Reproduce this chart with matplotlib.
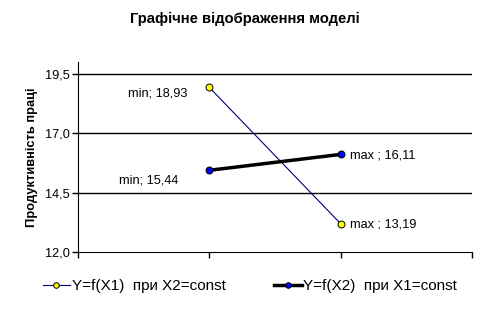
import matplotlib
matplotlib.use("Agg")
import matplotlib.pyplot as plt
from matplotlib.ticker import FuncFormatter

plt.rcParams['font.family'] = ['Liberation Sans', 'DejaVu Sans']

x_pos = [1, 2]
y1 = [18.93, 13.19]
y2 = [15.44, 16.11]
labels1 = ["min; 18,93", "max ; 13,19"]
labels2 = ["min; 15,44", "max ; 16,11"]
legend_labels = ["Y=f(X1)  при X2=const", "Y=f(X2)  при X1=const"]
title = "Графічне відображення моделі"
ylabel = "Продуктивність праці"
yticks = [12.0, 14.5, 17.0, 19.5]

fig = plt.figure(figsize=(4.89, 3.11), dpi=100)
ax = fig.add_axes([78/489, 1-252/311, (472-78)/489, (252-62)/311])

ax.set_xlim(0, 3)
ax.set_ylim(12, 20)
ax.set_yticks(yticks)
ax.yaxis.set_major_formatter(FuncFormatter(lambda v, p: f"{v:.1f}".replace(".", ",")))
ax.set_xticks([0, 1, 2, 3])
ax.set_xticklabels([])
for v in yticks[1:]:
    ax.axhline(v, color='black', lw=1, zorder=0)
ax.spines['top'].set_visible(False)
ax.spines['right'].set_visible(False)
ax.tick_params(axis='both', direction='out', length=4, width=1, labelsize=9.2, colors='black')
ax.tick_params(axis='y', pad=2)

l1, = ax.plot(x_pos, y1, color='#000080', lw=0.8, marker='o', ms=5,
              mfc='#ffff00', mec='black', mew=0.7, label=legend_labels[0], zorder=3)
l2, = ax.plot(x_pos, y2, color='black', lw=2.5, marker='o', ms=5,
              mfc='#0000ff', mec='black', mew=0.7, label=legend_labels[1], zorder=4)

fs = 9.2
ax.annotate(labels1[0], (x_pos[0], y1[0]), xytext=(-16, -4.3), textcoords='offset points',
            ha='right', va='center', fontsize=fs)
ax.annotate(labels1[1], (x_pos[1], y1[1]), xytext=(6.5, -0.7), textcoords='offset points',
            ha='left', va='center', fontsize=fs)
ax.annotate(labels2[0], (x_pos[0], y2[0]), xytext=(-22, -7), textcoords='offset points',
            ha='right', va='center', fontsize=fs)
ax.annotate(labels2[1], (x_pos[1], y2[1]), xytext=(6.5, -0.7), textcoords='offset points',
            ha='left', va='center', fontsize=fs)

ax.set_ylabel(ylabel, fontsize=9.3, fontweight='bold', labelpad=5)
fig.text(245/489, 1-19/311, title, ha='center', va='center', fontsize=10.7, fontweight='bold')

fig.legend(handles=[l1, l2], loc='center', bbox_to_anchor=(250/489, 1-286/311), ncol=2,
           frameon=False, fontsize=11, handlelength=1.8, handletextpad=0.1, columnspacing=3.2,
           markerscale=0.8)

fig.savefig("out.png", dpi=100)
